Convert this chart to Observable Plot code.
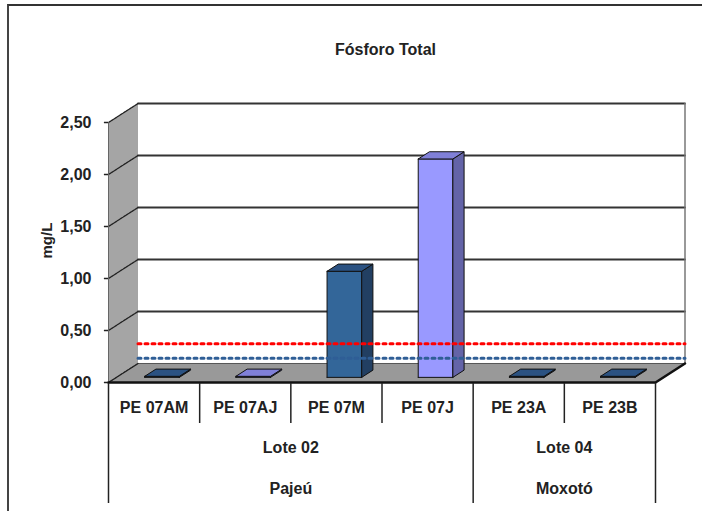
<!DOCTYPE html>
<html>
<head>
<meta charset="utf-8">
<script src="https://cdn.jsdelivr.net/npm/d3@7"></script>
<script src="https://cdn.jsdelivr.net/npm/@observablehq/plot@0.6"></script>
<style>
  body { margin: 0; background: #fff; }
  #chart { position: relative; width: 702px; height: 511px; overflow: hidden; background: #fff;
           font-family: "Liberation Sans", Arial, sans-serif; }
  #frame { position: absolute; left: 7px; top: 4px; width: 760px; height: 560px;
           border-top: 2px solid #333; border-left: 2px solid #444; }
  #title { position: absolute; left: 285px; width: 201px; top: 41px; text-align: center;
           font-size: 16px; font-weight: bold; color: #222; line-height: 18px; }
  .plotwrap { position: absolute; left: 0; }
</style>
</head>
<body>
<div id="chart">
  <div id="frame"></div>
  <div id="title">Fósforo Total</div>
  <div id="topPlot" class="plotwrap" style="top:0"></div>
  <div id="tablePlot" class="plotwrap" style="top:383px"></div>
</div>
<script>
// ---------- data ----------
const samples = ["PE 07AM", "PE 07AJ", "PE 07M", "PE 07J", "PE 23A", "PE 23B"];
const values = [0.01, 0.01, 1.02, 2.10, 0.01, 0.01];
const colorGroup = ["A", "B", "A", "B", "A", "A"];
const lots = ["Lote 02", "Lote 02", "Lote 02", "Lote 02", "Lote 04", "Lote 04"];
const basins = ["Pajeú", "Pajeú", "Pajeú", "Pajeú", "Moxotó", "Moxotó"];
const yTicks = [0, 0.5, 1, 1.5, 2, 2.5];
const yTickLabels = ["0,00", "0,50", "1,00", "1,50", "2,00", "2,50"];
const limitValues = [0.19, 0.05];
const yLabel = "mg/L";

// ---------- styles ----------
const palette = {
  A: {front: "#336699", side: "#223f62", top: "#2b5282"},
  B: {front: "#9999ff", side: "#6464a8", top: "#8080d8"}
};
const limitColors = ["#ff0000", "#2f5e96"];
const FONT = `"Liberation Sans", Arial, sans-serif`;

// 3-D depth projection (data units per unit of depth)
const DX = 0.3236, DY = 0.1827;
const proj = (x, y, z, extra = {}) => ({x: x + z * DX, y: y + z * DY, ...extra});
const poly = (id, pts, fill, stroke) => pts.map(([x, y, z]) => proj(x, y, z, {id, fill, stroke}));

const N = samples.length;
const ZF = 0.27, ZB = 0.65, HW = 0.19, TICK = 0.045;

// walls / floor
const walls = [
  ...poly("back", [[0,0,1],[N,0,1],[N,2.5,1],[0,2.5,1],[0,0,1]], "#ffffff", "none"),
  ...poly("left", [[0,0,0],[0,2.5,0],[0,2.5,1],[0,0,1],[0,0,0]], "#a5a5a5", "none"),
  ...poly("floor", [[0,0,0],[N,0,0],[N,0,1],[0,0,1],[0,0,0]], "#999999", "#555555")
];
const grid = yTicks.filter(t => t > 0).flatMap(t => [proj(0, t, 1, {id: t}), proj(N, t, 1, {id: t})]);
const diag = yTicks.flatMap(t => [proj(0, t, 0, {id: t}), proj(0, t, 1, {id: t})]);
const backEdge = [proj(N, 0, 1), proj(N, 2.5, 1)];
const frontLeft = [proj(0, 0, 0), proj(0, 2.5, 0)];
const floorFront = [proj(0, 0, 0), proj(N, 0, 0), proj(N, 0, 1)];

// bars
const bars = values.flatMap((v, i) => {
  const c = palette[colorGroup[i]];
  const x1 = i + 0.5 - HW, x2 = i + 0.5 + HW;
  return [
    ...poly(`f${i}`, [[x1,0,ZF],[x2,0,ZF],[x2,v,ZF],[x1,v,ZF],[x1,0,ZF]], c.front, "#111"),
    ...poly(`s${i}`, [[x2,0,ZF],[x2,0,ZB],[x2,v,ZB],[x2,v,ZF],[x2,0,ZF]], c.side, "#111"),
    ...poly(`t${i}`, [[x1,v,ZF],[x2,v,ZF],[x2,v,ZB],[x1,v,ZB],[x1,v,ZF]], c.top, "#111")
  ];
});

const limits = limitValues.flatMap((v, k) => [proj(0, v, 1, {id: k, c: limitColors[k]}), proj(N, v, 1, {id: k, c: limitColors[k]})]);
const ticks = yTicks.map((t, k) => ({t, label: yTickLabels[k]}));

const topChart = Plot.plot({
  width: 702, height: 392,
  marginLeft: 108, marginRight: 47, marginTop: 122, marginBottom: 10,
  x: {domain: [0, N], axis: null},
  y: {domain: [0, 2.5], axis: null},
  color: {type: "identity"},
  style: {background: "transparent", overflow: "visible", fontFamily: FONT, fontSize: "16px", fontWeight: "bold", color: "#222", maxWidth: "none"},
  marks: [
    Plot.line(walls, {x: "x", y: "y", z: "id", fill: "fill", stroke: "stroke", strokeWidth: 1, curve: "linear"}),
    Plot.line(grid, {x: "x", y: "y", z: "id", stroke: "#333", strokeWidth: 1.8}),
    Plot.line(backEdge, {x: "x", y: "y", stroke: "#777", strokeWidth: 1.5}),
    Plot.line(diag, {x: "x", y: "y", z: "id", stroke: "#222", strokeWidth: 1.3, strokeDasharray: "2.5,1"}),
    Plot.line(frontLeft, {x: "x", y: "y", stroke: "#666", strokeWidth: 1}),
    Plot.line(floorFront, {x: "x", y: "y", stroke: "#111", strokeWidth: 2.5}),
    Plot.ruleY(ticks, {y: "t", x1: -TICK, x2: 0, stroke: "#222", strokeWidth: 1.5}),
    Plot.line(bars, {x: "x", y: "y", z: "id", fill: "fill", stroke: "stroke", strokeWidth: 1, curve: "linear"}),
    Plot.line(limits, {x: "x", y: "y", z: "id", stroke: "c", strokeWidth: 3, strokeDasharray: "3,4"}),
    Plot.text(ticks, {x: 0, y: "t", text: "label", textAnchor: "end", dx: -17, fill: "#222", fontSize: 16, fontWeight: "bold"}),
    Plot.text([yLabel], {frameAnchor: "left", text: d => d, dx: -61, dy: 6, rotate: -90, fill: "#222", fontSize: 15, fontWeight: "bold"})
  ]
});
document.getElementById("topPlot").appendChild(topChart);

// ---------- data table under the chart ----------
function spans(arr) {
  const out = [];
  arr.forEach((v, i) => {
    const last = out[out.length - 1];
    if (last && last.label === v) last.end = i + 1;
    else out.push({label: v, start: i, end: i + 1});
  });
  return out;
}
const lotSpans = spans(lots);
const basinSpans = spans(basins);
const groupBounds = [0, ...basinSpans.map(s => s.end)];
const innerBounds = d3.range(1, N).filter(b => !groupBounds.includes(b));

const tableChart = Plot.plot({
  width: 702, height: 128,
  marginLeft: 108, marginRight: 47, marginTop: 0, marginBottom: 8,
  x: {domain: [0, N], axis: null},
  y: {domain: [0, 3], range: [0, 120], axis: null},
  style: {background: "transparent", overflow: "visible", fontFamily: FONT, fontSize: "16px", fontWeight: "bold", color: "#222", maxWidth: "none"},
  marks: [
    Plot.ruleX(innerBounds, {x: d => d, y1: 0, y2: 1, stroke: "#222", strokeWidth: 1.5}),
    Plot.ruleX(groupBounds, {x: d => d, y1: 0, y2: 3, stroke: "#222", strokeWidth: 1.5}),
    Plot.text(samples, {x: (d, i) => i + 0.5, y: 0.5, text: d => d, dy: 4, fill: "#222", fontSize: 16, fontWeight: "bold"}),
    Plot.text(lotSpans, {x: d => (d.start + d.end) / 2, y: 1.5, text: "label", dy: 4, fill: "#222", fontSize: 16, fontWeight: "bold"}),
    Plot.text(basinSpans, {x: d => (d.start + d.end) / 2, y: 2.5, text: "label", dy: 5, fill: "#222", fontSize: 16, fontWeight: "bold"})
  ]
});
document.getElementById("tablePlot").appendChild(tableChart);
</script>
</body>
</html>
